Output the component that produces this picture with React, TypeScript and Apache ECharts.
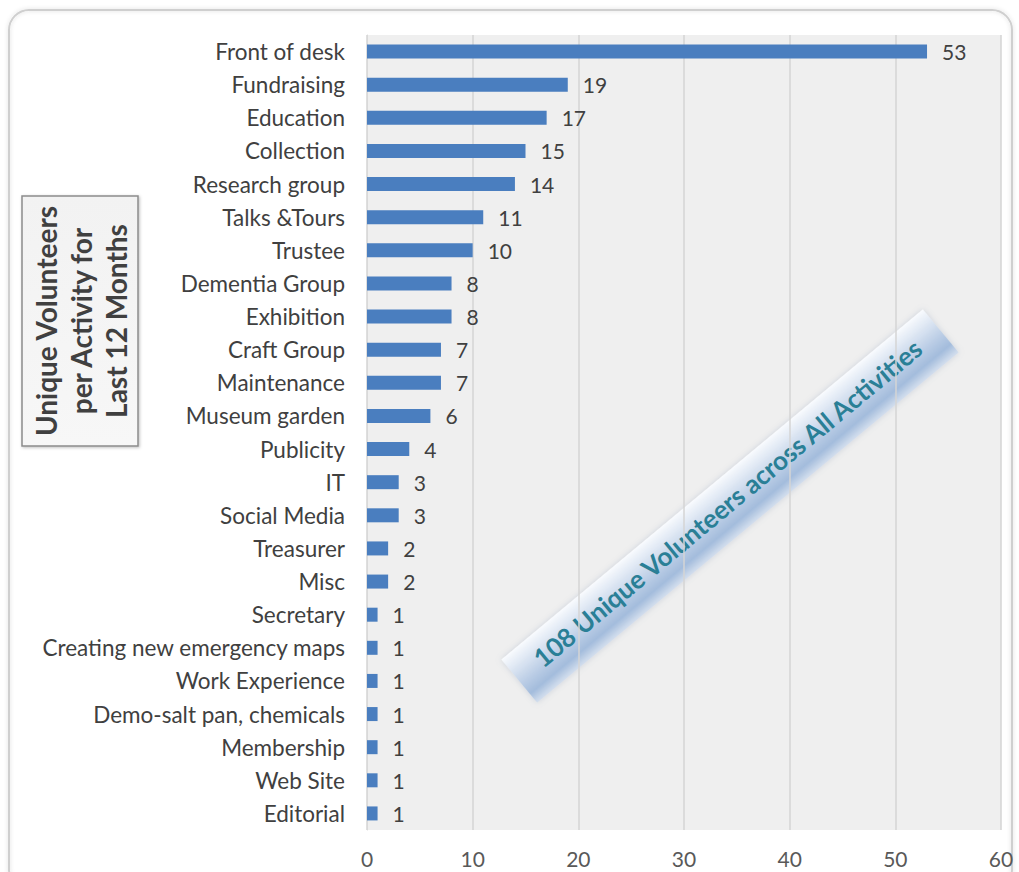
import React, { useEffect, useRef } from "react";
import * as echarts from "echarts";

const categories = [
  "Front of desk", "Fundraising", "Education", "Collection", "Research group",
  "Talks &Tours", "Trustee", "Dementia Group", "Exhibition", "Craft Group",
  "Maintenance", "Museum garden", "Publicity", "IT", "Social Media",
  "Treasurer", "Misc", "Secretary", "Creating new emergency maps",
  "Work Experience", "Demo-salt pan, chemicals", "Membership", "Web Site", "Editorial",
];
const volunteers = [53, 19, 17, 15, 14, 11, 10, 8, 8, 7, 7, 6, 4, 3, 3, 2, 2, 1, 1, 1, 1, 1, 1, 1];
const sideTitle = "Unique Volunteers\nper Activity for\nLast 12 Months";
const bannerText = "108 Unique Volunteers across All Activities";

const FONT = "Lato, 'Open Sans', sans-serif";

export default function App() {
  const ref = useRef<HTMLDivElement>(null);
  useEffect(() => {
    if (!ref.current) return;
    const chart = echarts.init(ref.current, undefined, { renderer: "svg" });
    const ang = (39.7 * Math.PI) / 180;
    chart.setOption({
      animation: false,
      backgroundColor: "#ffffff",
      grid: {
        left: 367, top: 35, right: 18, bottom: 42,
        show: true, backgroundColor: "#efefef", borderWidth: 0,
      },
      xAxis: {
        type: "value", min: 0, max: 60, interval: 10,
        axisLine: { show: false }, axisTick: { show: false },
        splitLine: { show: true, lineStyle: { color: "#d4d4d4", width: 1.5 } },
        axisLabel: { fontSize: 21, color: "#595959", margin: 18, fontFamily: FONT },
      },
      yAxis: {
        type: "category", data: categories, inverse: true,
        axisLine: { show: true, lineStyle: { color: "#d9d9d9" } },
        axisTick: { show: false },
        axisLabel: { fontSize: 22.5, color: "#404040", margin: 22, fontFamily: FONT },
      },
      series: [
        {
          type: "bar", data: volunteers, barWidth: 14,
          itemStyle: { color: "#4a7ebf" },
          label: { show: true, position: "right", distance: 15, fontSize: 21, color: "#404040", fontFamily: FONT },
        },
      ],
      graphic: [
        {
          type: "rect", z: -10, silent: true,
          shape: { x: 9, y: 10, width: 1003, height: 880, r: 20 },
          style: { fill: "none", stroke: "#cfcfcf", lineWidth: 2, shadowBlur: 4, shadowColor: "rgba(0,0,0,0.15)" },
        },
        {
          type: "group", x: 22, y: 196,
          children: [
            {
              type: "rect",
              shape: { x: 0, y: 0, width: 116, height: 250 },
              style: {
                fill: new echarts.graphic.LinearGradient(0, 0, 0, 1, [
                  { offset: 0, color: "#f2f2f2" },
                  { offset: 1, color: "#f7f7f7" },
                ]),
                stroke: "#8c8c8c", lineWidth: 1.5,
                shadowBlur: 3, shadowOffsetX: 1, shadowOffsetY: 1, shadowColor: "rgba(0,0,0,0.25)",
              },
            },
            {
              type: "text", x: 59, y: 125, rotation: Math.PI / 2,
              style: {
                text: sideTitle, fontSize: 28, fontWeight: 700, fill: "#404040",
                fontFamily: FONT, align: "center", verticalAlign: "middle", lineHeight: 35,
              },
            },
          ],
        },
        {
          type: "group", x: 730, y: 506, rotation: ang,
          children: [
            {
              type: "rect",
              shape: { x: -274, y: -28, width: 548, height: 56 },
              style: {
                fill: new echarts.graphic.LinearGradient(0, 0, 0, 1, [
                  { offset: 0, color: "rgba(250,252,255,0.95)" },
                  { offset: 0.55, color: "#bccee6" },
                  { offset: 0.8, color: "#a3bcdc" },
                  { offset: 1, color: "rgba(210,222,238,0.9)" },
                ]),
                shadowBlur: 6, shadowColor: "rgba(120,140,170,0.3)",
              },
            },
            {
              type: "text", x: 0, y: -4,
              style: {
                text: bannerText, fontSize: 26, fontWeight: 700, fill: "#2a7f96",
                fontFamily: FONT, align: "center", verticalAlign: "middle",
              },
            },
          ],
        },
      ],
    });
    return () => chart.dispose();
  }, []);
  return (
    <div
      ref={ref}
      style={{ position: "absolute", left: 0, top: 0, width: 1019, height: 872 }}
    />
  );
}
